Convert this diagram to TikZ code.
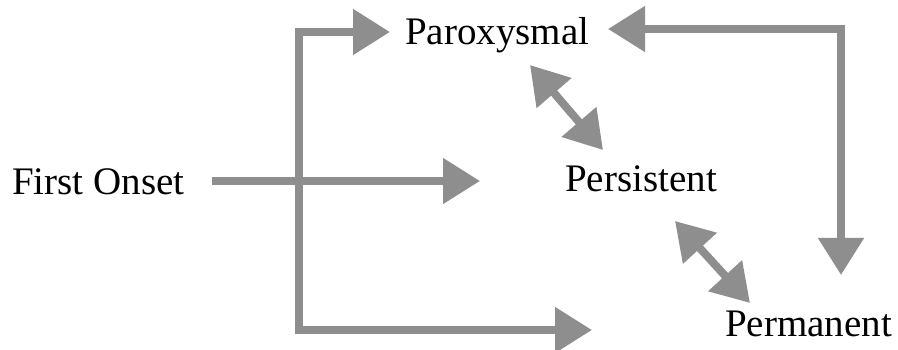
\documentclass[tikz,border=0pt]{standalone}
\usepackage{fontspec}
\setmainfont{Liberation Serif}
\usetikzlibrary{arrows.meta}
\definecolor{flowgray}{RGB}{142,142,142}

\begin{document}
\begin{tikzpicture}[x=1pt,y=1pt,
  flow/.style={draw=flowgray, line width=8pt, -{Triangle[length=37pt,width=44pt]}},
  twoway/.style={flow, {Triangle[length=37pt,width=44pt]}-{Triangle[length=37pt,width=44pt]}}]
\tikzstyle{every node}+=[inner sep=0pt, anchor=base west, font=\fontsize{39}{47}\selectfont]
\useasboundingbox (0,0) rectangle (898,350);
% states
\node (onset) at (12,155) {First Onset};
\node (parox) at (405,305) {Paroxysmal};
\node (persist) at (565,158) {Persistent};
\node (perm) at (725,13) {Permanent};
% bends and free ends
\coordinate (onsetout) at (212,169);
\coordinate (persistin) at (480,169);
\coordinate (trunktop) at (299,318);
\coordinate (trunkbot) at (299,20);
\coordinate (paroxin) at (390,318);
\coordinate (permin) at (592,20);
\coordinate (paroxout) at (608,321);
\coordinate (corner) at (841,321);
\coordinate (permtop) at (841,75);
\coordinate (pxlow) at (530,285);
\coordinate (pshigh) at (603,200);
\coordinate (pslow) at (675,129);
\coordinate (pmhigh) at (750,47);
% connectors
\draw [flow] (onsetout) -- (persistin);
\draw [flow, -] (trunktop) -- (trunkbot);
\draw [flow, line cap=rect] (trunktop) -- (paroxin);
\draw [flow, line cap=rect] (trunkbot) -- (permin);
\draw [twoway, line join=miter] (paroxout) -- (corner) -- (permtop);
\draw [twoway] (pxlow) -- (pshigh);
\draw [twoway] (pslow) -- (pmhigh);
\end{tikzpicture}
\end{document}
